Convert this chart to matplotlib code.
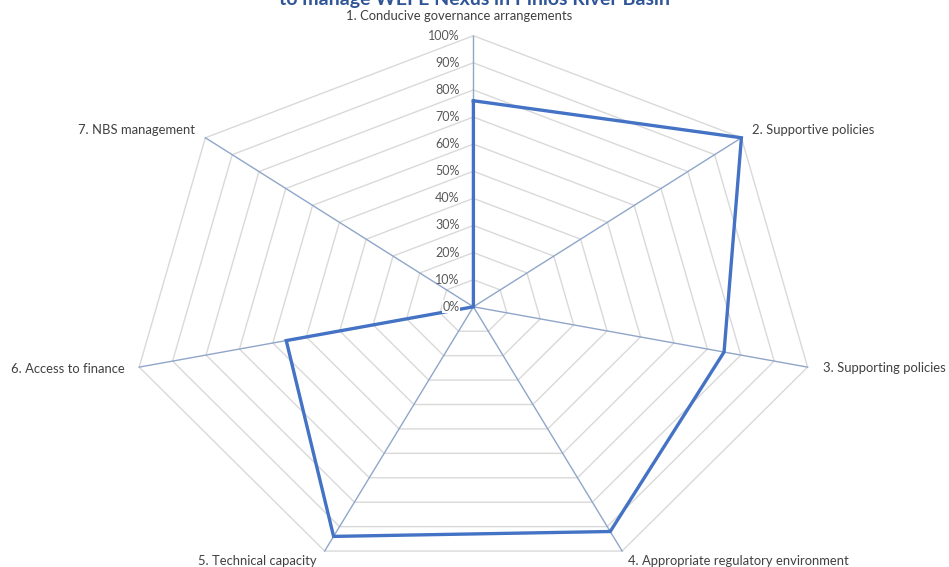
import numpy as np
import matplotlib
matplotlib.use("Agg")
import matplotlib.pyplot as plt

title = "to manage WEFE Nexus in Pinios River Basin"
categories = ["1. Conducive governance arrangements", "2. Supportive policies",
              "3. Supporting policies", "4. Appropriate regulatory environment",
              "5. Technical capacity", "6. Access to finance", "7. NBS management"]
values = [76, 100, 75, 92, 94, 56, 0]
ticks = [0, 10, 20, 30, 40, 50, 60, 70, 80, 90, 100]
tick_labels = ["0%", "10%", "20%", "30%", "40%", "50%", "60%", "70%", "80%", "90%", "100%"]

# label offsets (pixels) and alignment per category
label_offsets = [(-14, 20, "center"), (11, 8, "left"), (15, -1, "left"), (6, -10, "left"),
                 (-8, -10, "right"), (-14, -2, "right"), (-10, 8, "right")]

FONT = ["Lato", "DejaVu Sans"]
plt.rcParams["font.family"] = FONT

W, H, DPI = 949, 567, 100
fig = plt.figure(figsize=(W / DPI, H / DPI), dpi=DPI)
ax = fig.add_axes([0, 0, 1, 1])
ax.set_axis_off()

cx_px, cy_px, rx_px, ry_px = 473.4, 306.8, 342.8, 271.1
sx, sy = rx_px / 100.0, ry_px / 100.0
ax.set_xlim(-cx_px / sx, (W - cx_px) / sx)
ax.set_ylim(-(H - cy_px) / sy, cy_px / sy)

n = len(categories)
theta = np.arange(n) * 2 * np.pi / n

def xy(r):
    r = np.asarray(r, dtype=float)
    return r * np.sin(theta), r * np.cos(theta)

# grid polygons
for t in ticks[1:]:
    gx, gy = xy(np.full(n, t))
    ax.plot(np.append(gx, gx[0]), np.append(gy, gy[0]), color="#D9D9D9", lw=1.0, zorder=1)

# spokes
ox, oy = xy(np.full(n, 100))
for i in range(n):
    ax.plot([0, ox[i]], [0, oy[i]], color="#8FA6C9", lw=1.0, zorder=2)

# data
dx, dy = xy(values)
ax.plot(np.append(dx, dx[0]), np.append(dy, dy[0]), color="#4472C4", lw=2.4, zorder=4,
        solid_joinstyle="miter")

# tick labels
for t, lab in zip(ticks, tick_labels):
    ax.annotate(lab, xy=(0, t), xytext=(-14, 0), textcoords="offset pixels",
                ha="right", va="center", fontsize=9, color="#595959", zorder=5,
                bbox=dict(facecolor="white", edgecolor="none", pad=0.3) if t == 0 else None)

# category labels
for i, cat in enumerate(categories):
    ox_i, oy_i, ha = label_offsets[i]
    ax.annotate(cat, xy=(ox[i], oy[i]), xytext=(ox_i, oy_i), textcoords="offset pixels",
                ha=ha, va="center", fontsize=9.4, color="#404040")

fig.text(0.5, 1 - 5 / H, title, ha="center", va="baseline", fontsize=14,
         fontweight="bold", color="#2F5597")

fig.savefig("out.png", dpi=DPI, facecolor="white")
